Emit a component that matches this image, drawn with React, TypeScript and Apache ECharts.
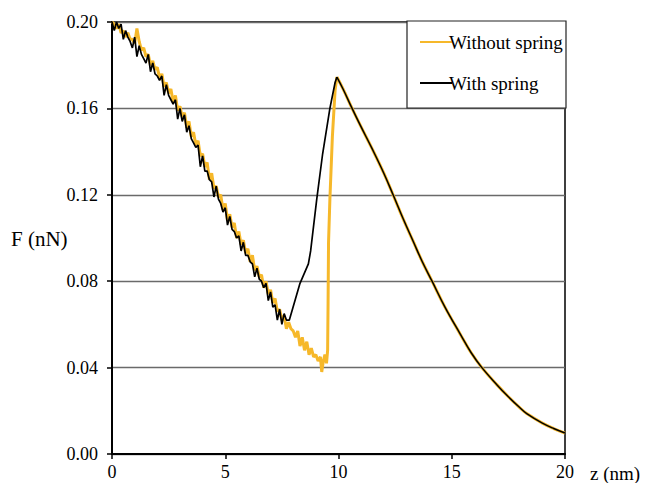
import React, { useEffect, useRef } from "react";
import * as echarts from "echarts";

// ---- data ----
const descentZ = [
  0.0, 0.1, 0.2, 0.3, 0.4, 0.5, 0.6, 0.7, 0.8, 0.9,
  1.0, 1.1, 1.2, 1.3, 1.4, 1.5, 1.6, 1.7, 1.8, 1.9,
  2.0, 2.1, 2.2, 2.3, 2.4, 2.5, 2.6, 2.7, 2.8, 2.9,
  3.0, 3.1, 3.2, 3.3, 3.4, 3.5, 3.6, 3.7, 3.8, 3.9,
  4.0, 4.1, 4.2, 4.3, 4.4, 4.5, 4.6, 4.7, 4.8, 4.9,
  5.0, 5.1, 5.2, 5.3, 5.4, 5.5, 5.6, 5.7, 5.8, 5.9,
  6.0, 6.1, 6.2, 6.3, 6.4, 6.5, 6.6, 6.7, 6.8, 6.9,
  7.0, 7.1, 7.2, 7.3, 7.4,
];
const descentWithSpring = [
  0.200, 0.196, 0.200, 0.197, 0.199, 0.192, 0.196, 0.193, 0.191, 0.188,
  0.193, 0.184, 0.189, 0.185, 0.183, 0.181, 0.185, 0.177, 0.181, 0.176,
  0.175, 0.173, 0.175, 0.166, 0.171, 0.166, 0.164, 0.162, 0.164, 0.155,
  0.160, 0.154, 0.157, 0.149, 0.152, 0.146, 0.144, 0.142, 0.143, 0.133,
  0.138, 0.131, 0.131, 0.127, 0.126, 0.119, 0.124, 0.118, 0.116, 0.112,
  0.114, 0.106, 0.110, 0.104, 0.103, 0.100, 0.101, 0.094, 0.098, 0.092,
  0.092, 0.089, 0.088, 0.082, 0.086, 0.081, 0.080, 0.077, 0.079, 0.071,
  0.075, 0.068, 0.069, 0.062, 0.067,
];
const descentWithoutSpring = [
  0.200, 0.199, 0.197, 0.199, 0.195, 0.196, 0.193, 0.195, 0.192, 0.192,
  0.190, 0.197, 0.191, 0.187, 0.188, 0.184, 0.185, 0.180, 0.182, 0.178,
  0.179, 0.174, 0.176, 0.170, 0.172, 0.167, 0.169, 0.163, 0.166, 0.159,
  0.161, 0.156, 0.158, 0.151, 0.154, 0.147, 0.149, 0.143, 0.145, 0.138,
  0.139, 0.133, 0.135, 0.127, 0.130, 0.123, 0.124, 0.119, 0.120, 0.113,
  0.116, 0.108, 0.111, 0.105, 0.107, 0.100, 0.103, 0.097, 0.099, 0.093,
  0.095, 0.089, 0.092, 0.085, 0.087, 0.082, 0.083, 0.077, 0.080, 0.074,
  0.076, 0.070, 0.072, 0.066, 0.067,
];

// "With spring": smooth climb to the peak
const riseZ = [7.5, 7.6, 7.7, 7.83, 8.3, 8.67, 8.77, 9.04, 9.3, 9.62, 9.85, 9.93];
const riseF = [0.060, 0.065, 0.062, 0.062, 0.079, 0.088, 0.094, 0.118, 0.139, 0.160, 0.172, 0.1745];

// "Without spring": keeps sliding, then jumps
const jumpZ = [
  7.5, 7.6, 7.7, 7.8, 7.9, 8.0, 8.1, 8.2, 8.3, 8.4, 8.5, 8.6, 8.7, 8.8, 8.9, 9.0,
  9.1, 9.2, 9.26, 9.33, 9.4, 9.47, 9.52, 9.54, 9.56, 9.62, 9.73, 9.85, 9.93,
];
const jumpF = [
  0.062, 0.064, 0.058, 0.061, 0.058, 0.057, 0.054, 0.057, 0.050, 0.054, 0.048, 0.052, 0.046, 0.049, 0.045, 0.046,
  0.043, 0.045, 0.038, 0.043, 0.046, 0.042, 0.048, 0.070, 0.098, 0.118, 0.147, 0.1685, 0.1745,
];

// shared decay after the peak
const decayZ = [9.93, 10.2, 10.6, 10.97, 11.5, 12.0, 12.41, 12.85, 13.3, 13.7, 14.13, 14.7, 15.37, 15.85, 16.33, 17.0, 17.5, 18.0, 18.31, 19.0, 19.5, 20.0];
const decayF = [0.1745, 0.169, 0.160, 0.152, 0.141, 0.130, 0.120, 0.109, 0.0984, 0.089, 0.080, 0.068, 0.0556, 0.047, 0.040, 0.032, 0.0265, 0.0215, 0.0187, 0.0143, 0.0118, 0.0097];

const seriesNames = ["Without spring", "With spring"];
const yTicks = [0, 0.04, 0.08, 0.12, 0.16, 0.2];
const xTicks = [0, 5, 10, 15, 20];

const pairs = (zs: number[], fs: number[]) => zs.map((z, i) => [z, fs[i]]);

const FONT = "Liberation Serif";
const ORANGE = "#f6b82a";

export default function App() {
  const ref = useRef<HTMLDivElement>(null);
  useEffect(() => {
    document.body.style.margin = "0";
    if (!ref.current) return;
    const chart = echarts.init(ref.current, null, { renderer: "svg" });
    const withoutData = [...pairs(descentZ, descentWithoutSpring), ...pairs(jumpZ, jumpF)];
    const withData = [...pairs(descentZ, descentWithSpring), ...pairs(riseZ, riseF)];
    const decayData = pairs(decayZ, decayF);
    chart.setOption({
      animation: false,
      backgroundColor: "#fff",
      textStyle: { fontFamily: FONT },
      grid: {
        left: 112,
        right: 84,
        top: 22,
        bottom: 29,
        show: true,
        borderColor: "#000",
        borderWidth: 1.5,
        backgroundColor: "transparent",
      },
      xAxis: {
        type: "value",
        min: xTicks[0],
        max: xTicks[xTicks.length - 1],
        interval: 5,
        axisLine: { show: true, onZero: false, lineStyle: { color: "#000", width: 2 } },
        axisTick: { show: true, inside: false, length: 5, lineStyle: { color: "#000", width: 1.5 } },
        splitLine: { show: false },
        axisLabel: { color: "#000", fontSize: 18, fontFamily: FONT, margin: 9 },
      },
      yAxis: {
        type: "value",
        min: yTicks[0],
        max: yTicks[yTicks.length - 1],
        interval: 0.04,
        axisLine: { show: true, lineStyle: { color: "#000", width: 2 } },
        axisTick: { show: true, inside: false, length: 5, lineStyle: { color: "#000", width: 1.5 } },
        splitLine: { show: true, lineStyle: { color: "#6a6a6a", width: 1.3 } },
        axisLabel: {
          color: "#000",
          fontSize: 18,
          fontFamily: FONT,
          margin: 14,
          formatter: (v: number) => v.toFixed(2),
        },
      },
      legend: {
        show: true,
        orient: "vertical",
        left: 415,
        top: 27,
        icon: "rect",
        itemWidth: 32,
        itemHeight: 2,
        itemGap: 21,
        z: 20,
        data: seriesNames,
        textStyle: { color: "#000", fontSize: 19, fontFamily: FONT, lineHeight: 20, padding: [0, 0, 0, -8] },
      },
      graphic: [
        {
          type: "rect",
          z: 10,
          shape: { x: 407, y: 21, width: 159, height: 87 },
          style: { fill: "#fff", stroke: "#222", lineWidth: 1.2 },
        },
        {
          type: "text",
          left: 11,
          top: 228,
          style: { text: "F (nN)", fontSize: 21, fontFamily: FONT, fill: "#000" },
        },
        {
          type: "text",
          left: 590,
          top: 464,
          style: { text: "z (nm)", fontSize: 19, fontFamily: FONT, fill: "#000" },
        },
      ],
      series: [
        {
          name: seriesNames[0],
          type: "line",
          symbol: "none",
          data: withoutData,
          lineStyle: { color: ORANGE, width: 3 },
          itemStyle: { color: ORANGE },
          z: 2,
        },
        {
          name: seriesNames[0],
          type: "line",
          symbol: "none",
          smooth: 0.4,
          data: decayData,
          lineStyle: { color: ORANGE, width: 3 },
          itemStyle: { color: ORANGE },
          z: 2,
        },
        {
          name: seriesNames[1],
          type: "line",
          symbol: "none",
          data: withData,
          lineStyle: { color: "#000", width: 1.7 },
          itemStyle: { color: "#000" },
          z: 3,
        },
        {
          name: seriesNames[1],
          type: "line",
          symbol: "none",
          smooth: 0.4,
          data: decayData,
          lineStyle: { color: "#000", width: 1.5 },
          itemStyle: { color: "#000" },
          z: 3,
        },
      ],
    });
    return () => chart.dispose();
  }, []);
  return <div ref={ref} style={{ width: 649, height: 483 }} />;
}
